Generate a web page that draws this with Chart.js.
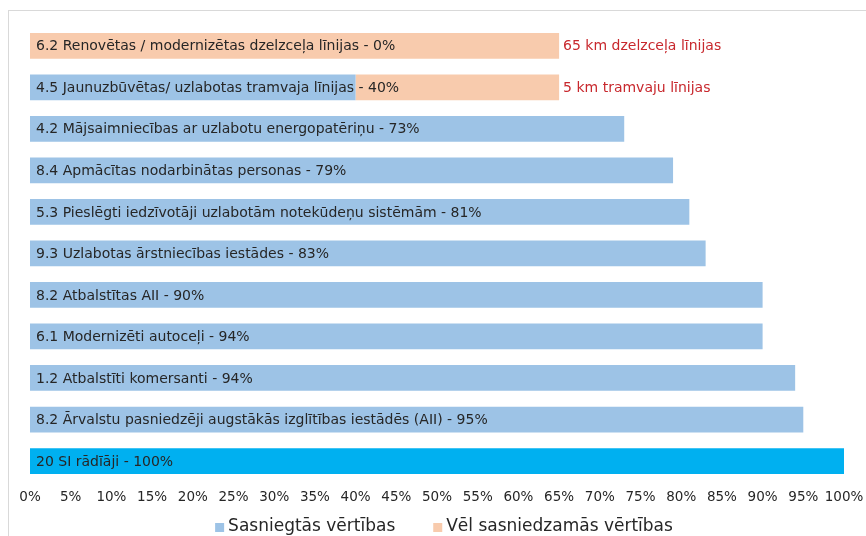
<!DOCTYPE html>
<html>
<head>
<meta charset="utf-8">
<script src="https://cdn.jsdelivr.net/npm/chart.js@4"></script>
<style>
  html, body { margin: 0; padding: 0; background: #fff; }
  #wrap { position: relative; width: 866px; height: 536px; overflow: hidden; }
  #frame { position: absolute; left: 8px; top: 10px; right: -20px; bottom: -20px;
           border-left: 1px solid #d9d9d9; border-top: 1px solid #d9d9d9; }
  canvas { position: absolute; left: 0; top: 0; }
</style>
</head>
<body>
<div id="wrap">
  <div id="frame"></div>
  <canvas id="chart" width="866" height="536"></canvas>
</div>
<script>
'use strict';

const categories = [
  '6.2 Renovētas / modernizētas dzelzceļa līnijas - 0%',
  '4.5 Jaunuzbūvētas/ uzlabotas tramvaja līnijas - 40%',
  '4.2 Mājsaimniecības ar uzlabotu energopatēriņu - 73%',
  '8.4 Apmācītas nodarbinātas personas - 79%',
  '5.3 Pieslēgti iedzīvotāji uzlabotām notekūdeņu sistēmām - 81%',
  '9.3 Uzlabotas ārstniecības iestādes - 83%',
  '8.2 Atbalstītas AII - 90%',
  '6.1 Modernizēti autoceļi - 94%',
  '1.2 Atbalstīti komersanti - 94%',
  '8.2 Ārvalstu pasniedzēji augstākās izglītības iestādēs (AII) - 95%',
  '20 SI rādīāji - 100%',
];
const achieved  = [0, 40, 73, 79, 81, 83, 90, 90, 94, 95, 100];
const remaining = [65, 25, 0, 0, 0, 0, 0, 0, 0, 0, 0];
const notes = ['65 km dzelzceļa līnijas', '5 km tramvaju līnijas', '', '', '', '', '', '', '', '', ''];
const tickValues = [0, 5, 10, 15, 20, 25, 30, 35, 40, 45, 50, 55, 60, 65, 70, 75, 80, 85, 90, 95, 100];

const BLUE = '#9DC3E6';
const BRIGHT = '#00B0F0';
const ORANGE = '#F8CBAD';
const FONT = '"DejaVu Sans", Verdana, sans-serif';

// text inside the bars, red notes after the orange ones, and the legend row
const barText = {
  id: 'barText',
  afterDatasetsDraw(chart) {
    const { ctx, scales: { x, y } } = chart;
    ctx.save();
    ctx.font = '14px ' + FONT;
    ctx.textBaseline = 'middle';
    categories.forEach((c, i) => {
      const py = y.getPixelForValue(i);
      ctx.fillStyle = '#262626';
      ctx.fillText(c, x.getPixelForValue(0) + 6, py + 1);
      if (notes[i]) {
        ctx.fillStyle = '#C8282D';
        ctx.fillText(notes[i], x.getPixelForValue(achieved[i] + remaining[i]) + 4, py + 1);
      }
    });

    ctx.font = '17px ' + FONT;
    const items = chart.data.datasets.map((d, i) => ({
      text: d.label,
      color: i === 0 ? BLUE : ORANGE,
      w: ctx.measureText(d.label).width,
    }));
    const box = 9, gapBox = 4, gapItem = 38;
    const total = items.reduce((s, it) => s + box + gapBox + it.w, 0) + gapItem * (items.length - 1);
    let lx = chart.width / 2 + 11 - total / 2;
    const ly = 527;
    items.forEach(it => {
      ctx.fillStyle = it.color;
      ctx.fillRect(lx, ly - 4, box, box);
      lx += box + gapBox;
      ctx.fillStyle = '#262626';
      ctx.fillText(it.text, lx, ly);
      lx += it.w + gapItem;
    });
    ctx.restore();
  },
};

new Chart(document.getElementById('chart'), {
  type: 'bar',
  data: {
    labels: categories,
    datasets: [
      {
        label: 'Sasniegtās vērtības',
        data: achieved,
        backgroundColor: c => (c.dataIndex === categories.length - 1 ? BRIGHT : BLUE),
        barPercentage: 0.62,
        categoryPercentage: 1,
      },
      {
        label: 'Vēl sasniedzamās vērtības',
        data: remaining,
        backgroundColor: ORANGE,
        barPercentage: 0.62,
        categoryPercentage: 1,
      },
    ],
  },
  options: {
    indexAxis: 'y',
    responsive: false,
    animation: false,
    layout: { padding: { left: 30, right: 22, top: 25, bottom: 22 } },
    scales: {
      x: {
        stacked: true,
        min: 0,
        max: 100,
        afterBuildTicks: s => { s.ticks = tickValues.map(v => ({ value: v })); },
        afterFit: s => { s.paddingLeft = 0; s.paddingRight = 0; },
        grid: { display: false, drawTicks: false },
        border: { display: false },
        ticks: {
          padding: 8,
          color: '#262626',
          font: { family: FONT, size: 13.5 },
          maxRotation: 0,
          autoSkip: false,
          callback: v => v + '%',
        },
      },
      y: { stacked: true, display: false },
    },
    plugins: {
      legend: { display: false },
      tooltip: { enabled: false },
    },
  },
  plugins: [barText],
});
</script>
</body>
</html>
